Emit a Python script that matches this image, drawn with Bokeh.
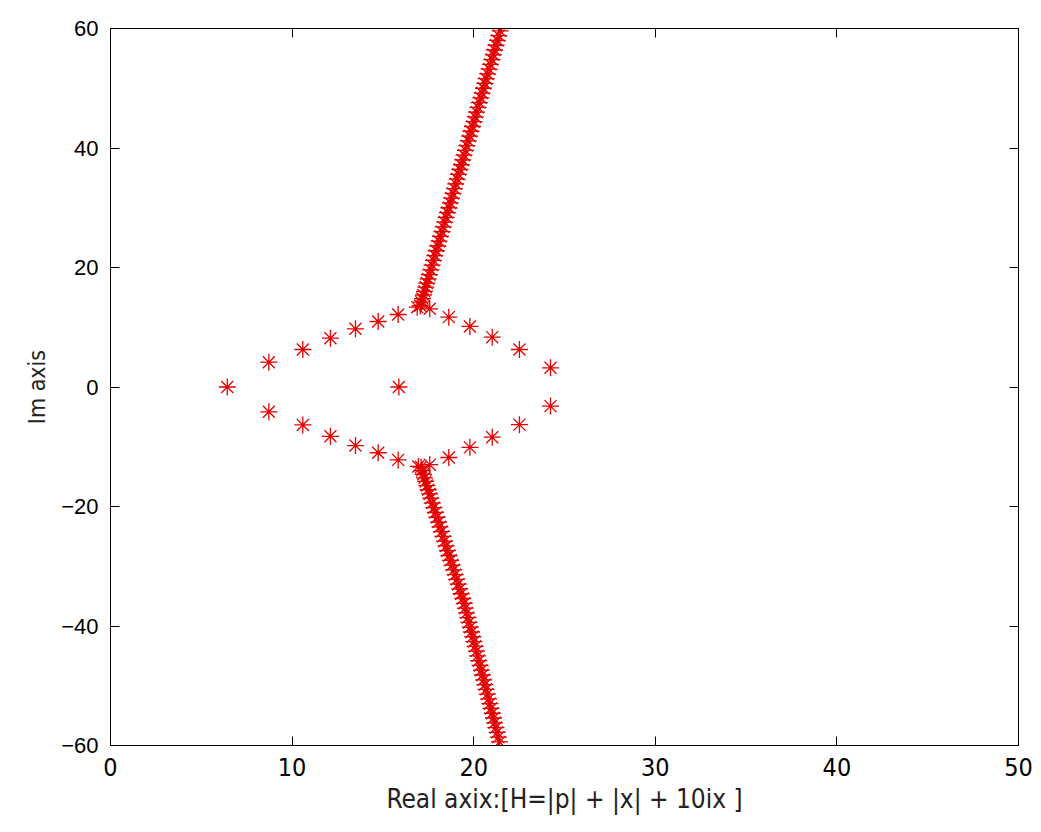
from bokeh.plotting import figure
from bokeh.models import LinearAxis, FixedTicker, Range1d
from bokeh.embed import file_html
from bokeh.resources import INLINE

# Loop (closed locus) points
loop_x = [6.43, 8.72, 10.59, 12.11, 13.49, 14.74, 15.84, 16.89, 17.58, 18.63, 19.79, 21.02, 22.52, 24.23,
          8.72, 10.59, 12.11, 13.49, 14.74, 15.84, 16.95, 17.58, 18.63, 19.79, 21.02, 22.52, 24.23,
          15.88]
loop_y = [0.0, 4.15, 6.28, 8.17, 9.74, 10.96, 12.13, 13.36, 13.09, 11.69, 10.13, 8.34, 6.28, 3.21,
          -4.15, -6.35, -8.25, -9.80, -11.0, -12.2, -13.3, -13.0, -11.8, -10.1, -8.4, -6.3, -3.2,
          0.0]

# Upper branch
upper_x = [17.06, 17.12, 17.18, 17.23, 17.29, 17.36, 17.42, 17.49, 17.56, 17.64, 17.71, 17.79, 17.86, 17.94,
           18.02, 18.09, 18.17, 18.25, 18.32, 18.40, 18.48, 18.55, 18.63, 18.71, 18.78, 18.86, 18.94, 19.01,
           19.09, 19.16, 19.24, 19.32, 19.39, 19.47, 19.55, 19.62, 19.70, 19.78, 19.85, 19.93, 20.01, 20.08,
           20.16, 20.24, 20.31, 20.39, 20.46, 20.54, 20.62, 20.69, 20.77, 20.85, 20.92, 21.00, 21.08, 21.15,
           21.23, 21.31, 21.38, 21.46]
upper_y = [13.6, 14.2, 14.8, 15.4, 16.0, 16.7, 17.4, 18.1, 18.8, 19.6, 20.4, 21.2, 22.0, 22.8,
           23.6, 24.4, 25.2, 26.0, 26.8, 27.6, 28.4, 29.2, 30.0, 30.8, 31.6, 32.4, 33.2, 34.0,
           34.8, 35.6, 36.4, 37.2, 38.0, 38.8, 39.6, 40.4, 41.2, 42.0, 42.8, 43.6, 44.4, 45.2,
           46.0, 46.8, 47.6, 48.4, 49.2, 50.0, 50.8, 51.6, 52.4, 53.2, 54.0, 54.8, 55.6, 56.4,
           57.2, 58.0, 58.8, 59.6]

# Lower branch
lower_x = [17.10, 17.16, 17.22, 17.29, 17.35, 17.42, 17.49, 17.57, 17.64, 17.72, 17.81, 17.89, 17.98, 18.06,
           18.14, 18.23, 18.31, 18.39, 18.48, 18.56, 18.64, 18.73, 18.81, 18.90, 18.98, 19.06, 19.15, 19.23,
           19.31, 19.40, 19.48, 19.54, 19.61, 19.68, 19.74, 19.81, 19.88, 19.95, 20.01, 20.08, 20.15, 20.21,
           20.28, 20.35, 20.42, 20.48, 20.55, 20.62, 20.68, 20.75, 20.82, 20.89, 20.95, 21.02, 21.09, 21.15,
           21.22, 21.29, 21.36, 21.42]
lower_y = [-13.4, -14.0, -14.6, -15.2, -15.8, -16.5, -17.2, -17.9, -18.6, -19.4, -20.2, -21.0, -21.8, -22.6,
           -23.4, -24.2, -25.0, -25.8, -26.6, -27.4, -28.2, -29.0, -29.8, -30.6, -31.4, -32.2, -33.0, -33.8,
           -34.6, -35.4, -36.2, -37.0, -37.8, -38.6, -39.4, -40.2, -41.0, -41.8, -42.6, -43.4, -44.2, -45.0,
           -45.8, -46.6, -47.4, -48.2, -49.0, -49.8, -50.6, -51.4, -52.2, -53.0, -53.8, -54.6, -55.4, -56.2,
           -57.0, -57.8, -58.6, -59.4]

x_ticks = [0, 10, 20, 30, 40, 50]
y_ticks = [-60, -40, -20, 0, 20, 40, 60]
y_tick_labels = {v: (("\u2212" + str(-v)) if v < 0 else str(v)) for v in y_ticks}

FONT = "Liberation Sans"
NARROW = "'DejaVu Sans Condensed', sans-serif"

p = figure(width=1033, height=824, output_backend="svg", toolbar_location=None,
           x_range=Range1d(0, 50), y_range=Range1d(-60, 60),
           min_border_left=110, min_border_top=28, min_border_right=15, min_border_bottom=79)
p.xgrid.visible = False
p.ygrid.visible = False
p.outline_line_color = "black"
p.outline_line_width = 1
p.background_fill_color = "white"
p.border_fill_color = "white"

for xs, ys in [(loop_x, loop_y), (upper_x, upper_y), (lower_x, lower_y)]:
    p.scatter(xs, ys, marker="asterisk", size=17, line_color="#e40000", line_width=1.3)

def style(ax):
    ax.major_tick_in = 9
    ax.major_tick_out = 0
    ax.minor_tick_in = 0
    ax.minor_tick_out = 0
    ax.axis_line_color = "black"
    ax.major_tick_line_color = "black"
    ax.major_label_text_font = FONT
    ax.major_label_text_color = "black"
    ax.axis_label_text_font = NARROW
    ax.axis_label_text_font_style = "normal"
    ax.axis_label_text_color = "#222222"

xa = p.xaxis[0]
xa.ticker = FixedTicker(ticks=x_ticks)
xa.axis_label = "Real axix:[H=|p| + |x| + 10ix ]"
style(xa)
xa.major_label_text_font = NARROW
xa.major_label_text_font_size = "25px"
xa.axis_label_text_font_size = "26px"
xa.major_label_standoff = 12
xa.axis_label_standoff = 5

ya = p.yaxis[0]
ya.ticker = FixedTicker(ticks=y_ticks)
ya.major_label_overrides = y_tick_labels
ya.axis_label = "Im axis"
style(ya)
ya.major_label_text_font_size = "22px"
ya.axis_label_text_font_size = "23px"
ya.major_label_standoff = 12
ya.axis_label_standoff = 8

top = LinearAxis(ticker=FixedTicker(ticks=x_ticks))
style(top)
top.major_label_overrides = {t: "" for t in x_ticks}
p.add_layout(top, "above")
right = LinearAxis(ticker=FixedTicker(ticks=y_ticks))
style(right)
right.major_label_overrides = {t: "" for t in y_ticks}
p.add_layout(right, "right")
p.min_border_top = 28
p.min_border_right = 15

open("out.html", "w").write(file_html(p, INLINE))
